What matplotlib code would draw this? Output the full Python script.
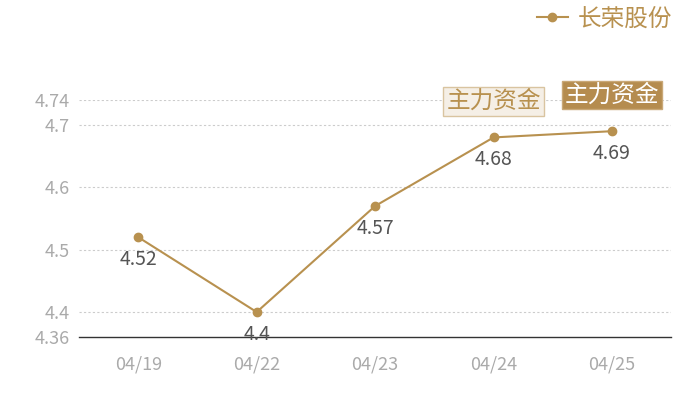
import matplotlib.pyplot as plt

plt.rcParams['font.family'] = ['Noto Sans CJK SC', 'DejaVu Sans']

dates = ['04/19', '04/22', '04/23', '04/24', '04/25']
prices = [4.52, 4.40, 4.57, 4.68, 4.69]
y_ticks = [4.36, 4.4, 4.5, 4.6, 4.7, 4.74]
series_name = '长荣股份'
badge_text = '主力资金'

gold = '#b8914f'
tick_grey = '#aaaaaa'

fig = plt.figure(figsize=(7, 4), dpi=100)
ax = fig.add_axes([0.1129, 0.1575, 0.846, 0.5925])

x = list(range(len(dates)))
ax.plot(x, prices, color=gold, lw=1.5, marker='o', ms=6, label=series_name)

for xi, p in zip(x, prices):
    ax.annotate(f'{p:g}', (xi, p), xytext=(0, -16), textcoords='offset points',
                ha='center', va='center', fontsize=14, color='#555555')

ax.set_xlim(-0.5, len(dates) - 0.5)
ax.set_ylim(4.36, 4.74)
ax.set_xticks(x)
ax.set_xticklabels(dates)
ax.set_yticks(y_ticks)
ax.set_yticklabels([f'{t:g}' for t in y_ticks])
ax.tick_params(axis='both', length=0, colors=tick_grey, labelsize=13)
ax.tick_params(axis='x', pad=13)
ax.tick_params(axis='y', pad=7)

for t in y_ticks[1:]:
    ax.axhline(t, color='#cccccc', lw=0.8, ls=(0, (2, 2)), zorder=0)

for side in ['top', 'right', 'left']:
    ax.spines[side].set_visible(False)
ax.spines['bottom'].set_color('#333333')
ax.spines['bottom'].set_linewidth(1)

# 主力资金 badges
ax.annotate(badge_text, (3, prices[3]), xytext=(0, 26), textcoords='offset points',
            ha='center', va='center', fontsize=17, color=gold,
            bbox=dict(boxstyle='square,pad=0.12', fc='#f5efe6', ec='#d9c4a0', lw=1))
ax.annotate(badge_text, (4, prices[4]), xytext=(0, 26), textcoords='offset points',
            ha='center', va='center', fontsize=17, color='white',
            bbox=dict(boxstyle='square,pad=0.1', fc='#b58c4f', ec='#c9a877', lw=1))

leg = fig.legend(loc='upper right', bbox_to_anchor=(0.99, 1.035), frameon=False,
                 fontsize=17, handlelength=1.3, handletextpad=0.4)
for t in leg.get_texts():
    t.set_color(gold)

fig.savefig('out.png', dpi=100)
